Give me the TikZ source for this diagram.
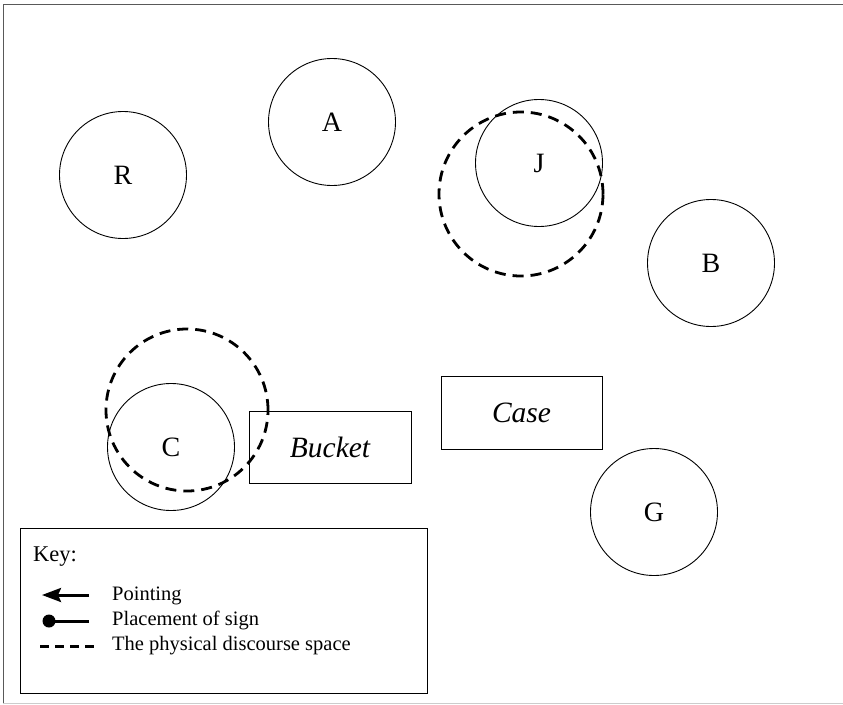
\documentclass[tikz,border=0pt]{standalone}
\usepackage{fontspec}
\setmainfont{Liberation Serif}
\usetikzlibrary{arrows.meta}
\begin{document}
\begin{tikzpicture}[x=1pt,y=-1pt,
  person/.style={circle,draw,line width=0.9pt,minimum size=127pt,inner sep=0pt,
    font=\fontsize{28}{32}\selectfont},
  space/.style={circle,draw,line width=2.8pt,dash pattern=on 11pt off 7pt,inner sep=0pt},
  thing/.style={rectangle,draw,line width=0.9pt,inner sep=0pt,
    font=\fontsize{29.5}{34}\selectfont\itshape},
  keytext/.style={anchor=west,inner sep=0pt,font=\fontsize{20.5}{24}\selectfont},
  keyline/.style={line width=3pt}]
\useasboundingbox (0,0) rectangle (843,704);
% outer frame
\draw[line width=0.8pt,gray!70!black] (3,704) -- (3,4) -- (843,4);
\draw[line width=0.6pt,gray!40] (3,703) -- (843,703);

% people
\node[person] (R) at (123,175) {R};
\node[person] (A) at (332,122) {A};
\node[person] (J) at (539,163) {J};
\node[person] (B) at (711,263) {B};
\node[person] (C) at (171,447) {C};
\node[person] (G) at (654,512) {G};

% discourse spaces
\node[space,minimum size=164pt] (Jspace) at (521,194) {};
\node[space,minimum size=162pt] (Cspace) at (187,410) {};

% objects
\node[thing,minimum width=162pt,minimum height=72pt] (bucket) at (330,447) {Bucket};
\node[thing,minimum width=161pt,minimum height=73pt] (case) at (521.5,412.5) {Case};

% key
\node[draw,line width=0.9pt,minimum width=407pt,minimum height=165pt,inner sep=0pt] (keybox) at (223.5,610.5) {};
\node[anchor=west,inner sep=0pt,font=\fontsize{22.5}{26}\selectfont] (keytitle) at (33,557) {Key:};

\coordinate (p1) at (89,595);
\coordinate (p0) at (42,595);
\draw[keyline,-{Stealth[length=19pt,width=14pt,inset=3pt]}] (p1) -- (p0);
\node[keytext] (pointing) at (112,596) {Pointing};

\coordinate (s1) at (89,621);
\coordinate (s0) at (49,621);
\draw[keyline] (s1) -- (s0);
\fill (s0) circle (6.5pt);
\node[keytext] (placement) at (112,620) {Placement of sign};

\coordinate (d0) at (40,646);
\coordinate (d1) at (97,646);
\draw[keyline,dash pattern=on 9pt off 6pt] (d0) -- (d1);
\node[keytext] (spacetext) at (112,646) {The physical discourse space};
\end{tikzpicture}
\end{document}
